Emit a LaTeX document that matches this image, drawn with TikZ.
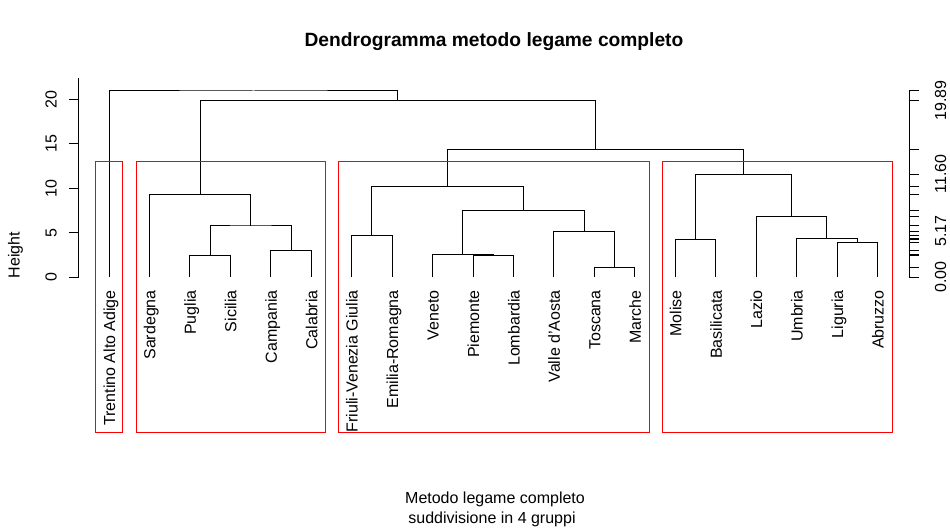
\documentclass[tikz,border=0pt]{standalone}
\usepackage{fontspec}
\setmainfont{Liberation Sans}
\usetikzlibrary{calc}
\newcommand{\leafx}[1]{109+40.45*(#1-1)} % x of leaf number #1
\tikzset{
    branch/.style={line width=0.75pt}, % the lines of the tree
    axisline/.style={line width=0.75pt}, % axes and their ticks
    cutbox/.style={draw=red, line width=0.75pt}, % boxes round the 4 groups
    leaf/.style={rotate=90, anchor=east, inner sep=0pt, text height=9pt, text depth=0pt, font=\fontsize{12}{14}\selectfont},
    ticklab/.style={rotate=90, inner sep=0pt, text height=9pt, text depth=0pt, font=\fontsize{12}{14}\selectfont},
    plaintext/.style={inner sep=0pt, font=\fontsize{12}{14}\selectfont},
}

\begin{document}
\begin{tikzpicture}[x=0.75pt, y=-0.75pt]
    \useasboundingbox (0,0) rectangle (950,530);
    % leaves
    \foreach \name [count=\i] in {Trentino Alto Adige, Sardegna, Puglia, Sicilia, Campania, Calabria,
        Friuli-Venezia Giulia, Emilia-Romagna, Veneto, Piemonte, Lombardia, Valle d'Aosta, Toscana, Marche,
        Molise, Basilicata, Lazio, Umbria, Liguria, Abruzzo}{
        \node[leaf] (n\i) at ({\leafx{\i}},290) {\name};
        \coordinate (l\i) at ({\leafx{\i}},277.3);
    }
    % merges
    \coordinate (ps) at ({\leafx{3.5}},255.3);
    \coordinate (cc) at ({\leafx{5.5}},250.3);
    \coordinate (pscc) at ({\leafx{4.5}},226);
    \coordinate (g2) at ({\leafx{3.25}},194.3);
    \coordinate (fe) at ({\leafx{7.5}},235.3);
    \coordinate (pl) at ({\leafx{10.5}},255.3);
    \coordinate (vpl) at ({\leafx{9.75}},254.3);
    \coordinate (tm) at ({\leafx{13.5}},267.3);
    \coordinate (vtm) at ({\leafx{12.75}},231.3);
    \coordinate (rt) at ({\leafx{11.25}},210.3);
    \coordinate (g3) at ({\leafx{9.375}},186.3);
    \coordinate (mb) at ({\leafx{15.5}},239.3);
    \coordinate (la) at ({\leafx{19.5}},242.3);
    \coordinate (ula) at ({\leafx{18.75}},238.3);
    \coordinate (lzr) at ({\leafx{17.875}},216.3);
    \coordinate (g4) at ({\leafx{16.6875}},174.1);
    \coordinate (bg) at ({\leafx{13.03125}},149.3);
    \coordinate (top2) at ({\leafx{8.140625}},100.3);
    \coordinate (top) at ({\leafx{4.5703}},91);
    \draw[branch] (l3) |- (ps) -| (l4)
        (l5) |- (cc) -| (l6)
        (ps) |- (pscc) -| (cc)
        (l2) |- (g2) -| (pscc)
        (l7) |- (fe) -| (l8)
        (l10) |- (pl) -| (l11)
        (l9) |- (vpl) -| (pl)
        (l13) |- (tm) -| (l14)
        (l12) |- (vtm) -| (tm)
        (vpl) |- (rt) -| (vtm)
        (fe) |- (g3) -| (rt)
        (l15) |- (mb) -| (l16)
        (l19) |- (la) -| (l20)
        (l18) |- (ula) -| (la)
        (l17) |- (lzr) -| (ula)
        (mb) |- (g4) -| (lzr)
        (g3) |- (bg) -| (g4)
        (g2) |- (top2) -| (bg)
        (l1) |- (top) -| (top2);
    % the 4 groups
    \draw[cutbox] (95.3,161.3) rectangle (122.3,432.3);
    \draw[cutbox] (136.3,161.3) rectangle (325.3,432.3);
    \draw[cutbox] (338.3,161.3) rectangle (649.3,432.3);
    \draw[cutbox] (662.3,161.3) rectangle (892.3,432.3);
    % left axis
    \coordinate (lax) at (78.7,277.3);
    \draw[axisline] (lax) -- (78.7,78);
    \foreach \v in {0,5,10,15,20}{
        \draw[axisline] ($(lax)+(0,-8.9*\v)$) -- ++(-9.4,0);
        \node[ticklab] (yl\v) at ($(50.5,277.3)+(0,-8.9*\v)$) {\v};
    }
    \node[ticklab] (ylab) at (13.5,255) {Height};
    % right axis, one tick for each merge
    \coordinate (rax) at (909.3,277.3);
    \coordinate (rlab) at (940,277.3);
    \draw[axisline] (rax) -- (rax |- top);
    \foreach \m in {rax,ps,cc,pscc,g2,fe,pl,vpl,tm,vtm,rt,g3,mb,la,ula,lzr,g4,bg,top2,top}
        \draw[axisline] (rax |- \m) -- ++(10,0);
    \node[ticklab] (r0) at (rlab) {0.00};
    \node[ticklab] (r1) at (rlab |- vtm) {5.17};
    \node[ticklab] (r2) at (rlab |- g4) {11.60};
    \node[ticklab] (r3) at (rlab |- top2) {19.89};
    % title and notes
    \node[plaintext, anchor=base, font=\fontsize{14.4}{17}\selectfont\bfseries] (title) at (494,46.7) {Dendrogramma metodo legame completo};
    \node[plaintext, anchor=base] (sub1) at (495,504) {Metodo legame completo};
    \node[plaintext, anchor=base] (sub2) at (492,523.5) {suddivisione in 4 gruppi};
\end{tikzpicture}
\end{document}
